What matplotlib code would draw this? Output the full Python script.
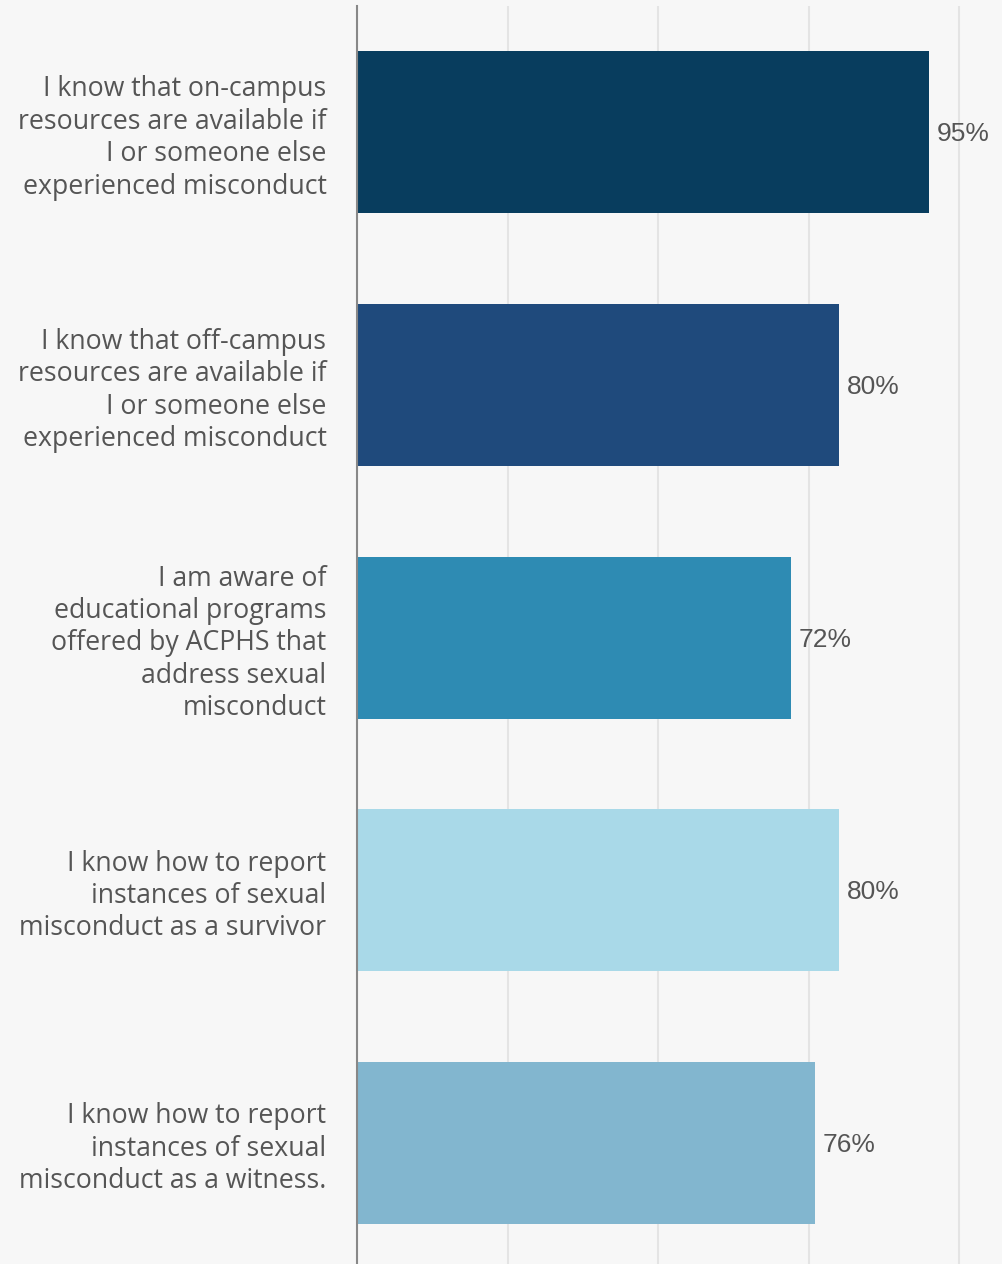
import matplotlib.pyplot as plt

statements = [
    "I know that on-campus\nresources are available if\nI or someone else\nexperienced misconduct",
    "I know that off-campus\nresources are available if\nI or someone else\nexperienced misconduct",
    "I am aware of\neducational programs\noffered by ACPHS that\naddress sexual\nmisconduct",
    "I know how to report\ninstances of sexual\nmisconduct as a survivor",
    "I know how to report\ninstances of sexual\nmisconduct as a witness.",
]
percents = [95, 80, 72, 80, 76]
bar_colors = ["#083d5e", "#1f4a7c", "#2e8bb3", "#a9d9e8", "#82b6cf"]

bg = "#f7f7f7"
text_gray = "#555555"

fig = plt.figure(figsize=(10.02, 12.64), dpi=100, facecolor=bg)
ax = fig.add_axes([0.3563, 0.0, 0.6437, 1 - 6 / 1264])
ax.set_facecolor(bg)

pos = list(range(len(statements)))
ax.barh(pos, percents, height=0.64, color=bar_colors, zorder=2)

# value labels just right of each bar end
for y, v in zip(pos, percents):
    ax.text(v + 1.3, y + 0.008, f"{v}%", va="center", ha="left", fontsize=19,
            family="Liberation Sans", color=text_gray, clip_on=False)

ax.set_xlim(0, 107.1)
ax.set_ylim(4.479, -0.5)
ax.set_xticks([0, 25, 50, 75, 100])
ax.xaxis.grid(True, color="#e4e4e4", linewidth=1.5, zorder=0)
ax.set_axisbelow(True)
ax.tick_params(axis="x", length=0, labelbottom=False)

ax.set_yticks(pos)
ax.set_yticklabels(statements, fontsize=19.2, family="Open Sans",
                   color=text_gray, linespacing=1.21)
ax.tick_params(axis="y", length=0, pad=22)

for side in ["top", "right", "bottom"]:
    ax.spines[side].set_visible(False)
ax.spines["left"].set_color("#888888")
ax.spines["left"].set_linewidth(1.5)
ax.spines["left"].set_zorder(3)

fig.savefig("out.png", dpi=100, facecolor=bg)
